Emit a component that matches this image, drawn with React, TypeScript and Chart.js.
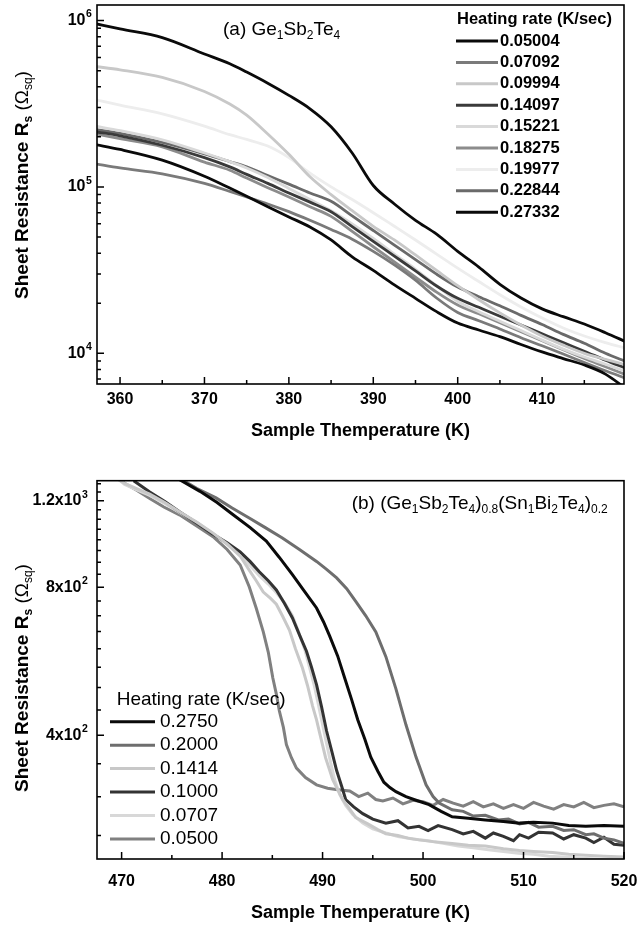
import React, { useEffect, useRef } from 'react';
import { Chart, registerables } from 'chart.js';

Chart.register(...registerables);

const FONT = "'Liberation Sans', Arial, Helvetica, sans-serif";

// ---------------- Panel (a) Ge1Sb2Te4 ----------------
const tempA = [357.0, 360, 365, 370, 373, 375, 377.5, 380, 382.5, 385, 387.5, 390, 392.5, 395, 397.5, 400, 402.5, 405, 407.5, 410, 412.5, 415, 417.5, 420.0];
const rA05004 = [1.8e5, 1.68e5, 1.45e5, 1.16e5, 9.85e4, 8.8e4, 7.6e4, 6.6e4, 5.75e4, 4.8e4, 3.8e4, 3.15e4, 2.58e4, 2.14e4, 1.78e4, 1.52e4, 1.38e4, 1.26e4, 1.13e4, 1.02e4, 9.3e3, 8.5e3, 7.5e3, 6.1e3];
const rA07092 = [1.38e5, 1.3e5, 1.2e5, 1.05e5, 9.4e4, 8.7e4, 7.9e4, 7.1e4, 6.3e4, 5.55e4, 4.85e4, 4.1e4, 3.4e4, 2.75e4, 2.15e4, 1.76e4, 1.57e4, 1.4e4, 1.24e4, 1.11e4, 9.9e3, 8.8e3, 7.85e3, 7.05e3];
const rA09994 = [5.3e5, 5.06e5, 4.55e5, 3.75e5, 3.15e5, 2.7e5, 2.08e5, 1.57e5, 1.15e5, 9.0e4, 7.2e4, 5.8e4, 4.8e4, 3.9e4, 3.15e4, 2.55e4, 2.1e4, 1.75e4, 1.48e4, 1.27e4, 1.12e4, 1.0e4, 9.2e3, 8.5e3];
const rA14097 = [2.15e5, 2.03e5, 1.78e5, 1.5e5, 1.32e5, 1.19e5, 1.05e5, 9.2e4, 8.1e4, 7.1e4, 5.78e4, 4.71e4, 3.84e4, 3.13e4, 2.54e4, 2.14e4, 1.89e4, 1.67e4, 1.48e4, 1.31e4, 1.16e4, 1.03e4, 9.1e3, 8.1e3];
const rA15221 = [2.32e5, 2.18e5, 1.92e5, 1.6e5, 1.42e5, 1.3e5, 1.14e5, 9.8e4, 8.4e4, 7.2e4, 6.0e4, 4.9e4, 3.95e4, 3.2e4, 2.55e4, 2.05e4, 1.78e4, 1.56e4, 1.37e4, 1.2e4, 1.06e4, 9.5e3, 8.6e3, 7.75e3];
const rA18275 = [2.09e5, 1.95e5, 1.74e5, 1.41e5, 1.26e5, 1.13e5, 9.9e4, 8.7e4, 7.6e4, 6.65e4, 5.4e4, 4.37e4, 3.54e4, 2.87e4, 2.33e4, 1.95e4, 1.73e4, 1.53e4, 1.35e4, 1.19e4, 1.05e4, 9.3e3, 8.3e3, 7.4e3];
const rA19977 = [3.35e5, 3.1e5, 2.75e5, 2.32e5, 2.06e5, 1.93e5, 1.76e5, 1.5e5, 1.21e5, 1.0e5, 8.4e4, 7.0e4, 5.8e4, 4.8e4, 3.95e4, 3.25e4, 2.7e4, 2.25e4, 1.9e4, 1.63e4, 1.42e4, 1.27e4, 1.16e4, 1.07e4];
const rA22844 = [2.22e5, 2.1e5, 1.85e5, 1.58e5, 1.42e5, 1.32e5, 1.17e5, 1.04e5, 9.2e4, 8.2e4, 6.7e4, 5.47e4, 4.47e4, 3.66e4, 2.99e4, 2.5e4, 2.19e4, 1.93e4, 1.69e4, 1.49e4, 1.3e4, 1.15e4, 1.0e4, 8.9e3];
const rA27332 = [9.6e5, 8.9e5, 7.9e5, 6.3e5, 5.5e5, 4.9e5, 4.2e5, 3.55e5, 2.95e5, 2.3e5, 1.6e5, 1.02e5, 7.9e4, 6.3e4, 5.2e4, 4.1e4, 3.3e4, 2.6e4, 2.15e4, 1.85e4, 1.66e4, 1.5e4, 1.33e4, 1.17e4];
const seriesA = [rA05004, rA07092, rA09994, rA14097, rA15221, rA18275, rA19977, rA22844, rA27332];
const labelsA = ['0.05004', '0.07092', '0.09994', '0.14097', '0.15221', '0.18275', '0.19977', '0.22844', '0.27332'];
const colorsA = ['#0a0a0a', '#7a7a7a', '#c8c8c8', '#3a3a3a', '#d9d9d9', '#8c8c8c', '#ededed', '#6a6a6a', '#0a0a0a'];
const xMajorA = [360, 370, 380, 390, 400, 410];
const xMinorA = [365, 375, 385, 395, 405, 415];
const yMajorA = [1e4, 1e5, 1e6];
const yLabelBaseA = ['10', '10', '10'];
const yLabelExpA = ['4', '5', '6'];
const yMinorA = [7e3, 8e3, 9e3, 2e4, 3e4, 4e4, 5e4, 6e4, 7e4, 8e4, 9e4, 2e5, 3e5, 4e5, 5e5, 6e5, 7e5, 8e5, 9e5];
const legendTitleA = 'Heating rate (K/sec)';

// ---------------- Panel (b) (Ge1Sb2Te4)0.8(Sn1Bi2Te4)0.2 ----------------
const tB2750 = [475.5, 477.8, 479.5, 481.1, 482.8, 484.4, 485.7, 487.0, 488.2, 489.4, 490.1, 490.7, 491.5, 492.2, 492.9, 493.5, 494.2, 494.8, 495.5, 496.1, 496.7, 497.3, 498.3, 499.3, 500.6, 501.8, 502.9, 504.5, 506.2, 508.0, 509.6, 511.0, 512.9, 514.5, 516.2, 518.0, 520.0];
const rB2750 = [1334, 1254, 1190, 1124, 1058, 993, 920, 849, 785, 726, 680, 637, 580, 523, 472, 430, 393, 361, 338, 321, 313, 307, 300, 295, 289, 280, 273, 271, 269, 267, 265, 266, 265, 262, 261, 262, 261];
const tB2000 = [475.6, 477.5, 479.4, 481.0, 482.7, 484.3, 486.0, 487.7, 489.4, 490.4, 491.4, 492.4, 493.3, 494.3, 495.3, 496.3, 497.3, 498.3, 499.3, 500.3, 501.0, 501.6, 502.9, 504.0, 505.0, 506.2, 507.5, 508.5, 509.6, 510.5, 511.5, 512.9, 514.0, 515.0, 516.2, 517.0, 518.0, 519.0, 520.0];
const rB2000 = [1340, 1270, 1216, 1160, 1107, 1058, 1008, 955, 903, 870, 836, 795, 749, 700, 649, 578, 497, 420, 361, 317, 300, 291, 282, 280, 274, 275, 269, 270, 264, 266, 260, 261, 256, 257, 251, 252, 247, 245, 241];
const tB1414 = [469.6, 470.3, 471.5, 472.8, 474.3, 475.8, 477.5, 479.1, 480.5, 481.8, 482.7, 483.4, 484.1, 484.8, 485.4, 486.0, 486.7, 487.3, 488.0, 488.5, 489.0, 489.4, 489.7, 490.0, 490.3, 490.7, 491.0, 491.5, 492.0, 492.6, 493.3, 494.5, 495.5, 496.3, 497.5, 498.5, 499.6, 501.0, 502.9, 504.5, 506.2, 508.0, 509.6, 511.0, 512.9, 514.5, 516.2, 518.0, 520.0];
const rB1414 = [1330, 1302, 1270, 1238, 1190, 1138, 1085, 1031, 980, 926, 867, 825, 782, 760, 739, 700, 655, 600, 548, 505, 459, 430, 405, 382, 360, 340, 325, 310, 296, 285, 272, 264, 257, 252, 250, 247, 245, 243, 241, 239, 238, 235, 233, 232, 231, 229, 228, 227, 226];
const tB1000 = [471.2, 472.8, 474.3, 475.8, 477.5, 479.1, 480.5, 481.8, 482.8, 483.7, 484.6, 485.4, 486.2, 487.0, 487.7, 488.4, 488.9, 489.4, 489.9, 490.4, 490.9, 491.4, 491.9, 492.3, 493.1, 494.0, 495.0, 496.3, 497.5, 498.5, 499.6, 500.5, 501.5, 502.9, 504.0, 505.0, 506.2, 507.0, 508.0, 509.0, 509.6, 510.5, 511.5, 512.9, 514.0, 515.0, 516.2, 517.0, 518.0, 519.0, 520.0];
const rB1000 = [1318, 1250, 1195, 1138, 1080, 1026, 985, 944, 902, 860, 825, 790, 742, 693, 640, 593, 550, 507, 457, 408, 372, 339, 315, 296, 286, 277, 270, 265, 268, 259, 261, 256, 262, 257, 252, 255, 247, 253, 249, 244, 251, 247, 254, 253, 246, 251, 247, 242, 248, 240, 239];
const tB0707 = [469.4, 470.3, 471.5, 472.8, 474.3, 475.8, 477.5, 479.1, 480.5, 481.8, 482.8, 483.7, 484.6, 485.4, 486.2, 487.0, 487.6, 488.2, 488.7, 489.2, 489.6, 490.0, 490.4, 490.8, 491.2, 491.7, 492.3, 493.0, 494.0, 495.0, 496.3, 497.5, 499.0, 500.5, 502.0, 503.5, 505.0, 506.5, 508.0, 509.5, 511.0, 512.5, 514.0, 515.5, 517.0, 518.5, 520.0];
const rB0707 = [1340, 1295, 1262, 1230, 1185, 1135, 1083, 1028, 978, 930, 885, 845, 812, 780, 745, 700, 650, 600, 550, 502, 460, 420, 385, 352, 325, 303, 288, 276, 265, 258, 253, 249, 246, 244, 241, 238, 236, 234, 232, 230, 229, 227, 226, 225, 224, 223, 222];
const tB0500 = [469.5, 470.3, 471.5, 472.8, 474.2, 475.8, 477.4, 479.1, 480.5, 481.8, 482.7, 483.4, 484.1, 484.6, 485.05, 485.4, 485.7, 486.1, 486.4, 486.9, 487.4, 488.3, 489.4, 490.5, 491.5, 492.7, 493.6, 494.5, 495.3, 496.0, 497.0, 498.0, 499.0, 500.0, 501.0, 502.0, 503.0, 504.0, 505.0, 506.0, 507.0, 508.0, 509.0, 510.0, 511.0, 512.0, 513.0, 514.0, 515.0, 516.0, 517.0, 518.0, 519.0, 520.0];
const rB0500 = [1345, 1302, 1260, 1213, 1165, 1122, 1068, 1014, 955, 888, 802, 725, 649, 590, 523, 485, 448, 415, 383, 360, 343, 328, 317, 312, 310, 308, 300, 305, 296, 294, 298, 290, 295, 293, 288, 296, 291, 287, 293, 286, 290, 284, 289, 284, 292, 287, 283, 289, 286, 292, 285, 288, 290, 286];
const tempsB = [tB2750, tB2000, tB1414, tB1000, tB0707, tB0500];
const seriesB = [rB2750, rB2000, rB1414, rB1000, rB0707, rB0500];
const labelsB = ['0.2750', '0.2000', '0.1414', '0.1000', '0.0707', '0.0500'];
const colorsB = ['#0a0a0a', '#6e6e6e', '#c8c8c8', '#333333', '#d8d8d8', '#808080'];
const xMajorB = [470, 480, 490, 500, 510, 520];
const xMinorB = [475, 485, 495, 505, 515];
const yMajorB = [400, 800, 1200];
const yLabelBaseB = ['4x10', '8x10', '1.2x10'];
const yLabelExpB = ['2', '2', '3'];
const yMinorB = [250, 300, 350, 450, 500, 550, 600, 650, 700, 750, 850, 900, 950, 1000, 1050, 1100, 1150, 1250, 1300];
const legendTitleB = 'Heating rate (K/sec)';

type Seg = { t: string; sub?: boolean; bold?: boolean };

function richWidth(ctx: CanvasRenderingContext2D, segs: Seg[], size: number, subSize: number) {
  let w = 0;
  for (const s of segs) {
    ctx.font = `${s.bold ? 'bold ' : ''}${s.sub ? subSize : size}px ${FONT}`;
    w += ctx.measureText(s.t).width;
  }
  return w;
}

function drawRich(ctx: CanvasRenderingContext2D, segs: Seg[], x: number, y: number, size: number, subSize: number, subDy: number) {
  let cx = x;
  ctx.textBaseline = 'alphabetic';
  ctx.textAlign = 'left';
  for (const s of segs) {
    ctx.font = `${s.bold ? 'bold ' : ''}${s.sub ? subSize : size}px ${FONT}`;
    ctx.fillText(s.t, cx, y + (s.sub ? subDy : 0));
    cx += ctx.measureText(s.t).width;
  }
}

const yTitleSegs: Seg[] = [
  { t: 'Sheet Resistance R', bold: true },
  { t: 's', bold: true, sub: true },
  { t: ' ', bold: true },
  { t: '(Ω' },
  { t: 'sq', sub: true },
  { t: ')' },
];

const noteA: Seg[] = [
  { t: '(a) Ge' }, { t: '1', sub: true }, { t: 'Sb' }, { t: '2', sub: true }, { t: 'Te' }, { t: '4', sub: true },
];
const noteB: Seg[] = [
  { t: '(b) (Ge' }, { t: '1', sub: true }, { t: 'Sb' }, { t: '2', sub: true }, { t: 'Te' }, { t: '4', sub: true },
  { t: ')' }, { t: '0.8', sub: true }, { t: '(Sn' }, { t: '1', sub: true }, { t: 'Bi' }, { t: '2', sub: true },
  { t: 'Te' }, { t: '4', sub: true }, { t: ')' }, { t: '0.2', sub: true },
];

type PanelOpts = {
  key: string;
  xMajor: number[]; xMinor: number[]; yMajor: number[]; yMinor: number[];
  yExp: string[]; expX: number;
  titleCY: number;
  note: Seg[]; noteX: number; noteY: number;
  legendTitle: string; legendTitleBold: boolean; legendSize: number;
  legendTitleX: number; legendTitleY: number;
  legendX0: number; legendX1: number; legendTextX: number; legendY0: number; legendDY: number;
  labels: string[]; colors: string[];
};

function panelPlugin(o: PanelOpts) {
  return {
    id: 'panel_' + o.key,
    afterDatasetsDraw(chart: any) {
      const { ctx, chartArea: a, scales } = chart;
      const xs = scales.x, ys = scales.y;
      ctx.save();
      ctx.strokeStyle = '#000';
      ctx.lineWidth = 1.5;
      ctx.beginPath();
      const xt = (vals: number[], len: number) => {
        for (const v of vals) {
          const p = xs.getPixelForValue(v);
          ctx.moveTo(p, a.bottom);
          ctx.lineTo(p, a.bottom - len);
        }
      };
      const yt = (vals: number[], len: number) => {
        for (const v of vals) {
          const p = ys.getPixelForValue(v);
          if (p < a.top || p > a.bottom) continue;
          ctx.moveTo(a.left, p);
          ctx.lineTo(a.left + len, p);
        }
      };
      xt(o.xMajor, 7); xt(o.xMinor, 4);
      yt(o.yMajor, 7); yt(o.yMinor, 4);
      ctx.stroke();
      ctx.lineWidth = 1.6;
      ctx.strokeRect(a.left, a.top, a.right - a.left, a.bottom - a.top);
      ctx.restore();
    },
    afterDraw(chart: any) {
      const { ctx, scales } = chart;
      // exponents of the y tick labels (superscripts)
      ctx.save();
      ctx.fillStyle = '#000';
      ctx.font = `bold 10.5px ${FONT}`;
      ctx.textAlign = 'left';
      ctx.textBaseline = 'middle';
      o.yMajor.forEach((v, i) => {
        const p = scales.y.getPixelForValue(v);
        ctx.fillText(o.yExp[i], o.expX, p - 6);
      });
      ctx.restore();

      ctx.save();
      ctx.fillStyle = '#000';
      ctx.translate(21, o.titleCY);
      ctx.rotate(-Math.PI / 2);
      const w = richWidth(ctx, yTitleSegs, 19, 12);
      drawRich(ctx, yTitleSegs, -w / 2, 6.8, 19, 12, 4);
      ctx.restore();

      ctx.save();
      ctx.fillStyle = '#000';
      drawRich(ctx, o.note, o.noteX, o.noteY, 19, 12, 4);
      ctx.textBaseline = 'middle';
      ctx.textAlign = 'left';
      ctx.font = `${o.legendTitleBold ? 'bold ' : ''}${o.legendSize}px ${FONT}`;
      ctx.fillText(o.legendTitle, o.legendTitleX, o.legendTitleY);
      o.labels.forEach((lab, i) => {
        const y = o.legendY0 + i * o.legendDY;
        ctx.strokeStyle = o.colors[i];
        ctx.lineWidth = 3;
        ctx.beginPath();
        ctx.moveTo(o.legendX0, y);
        ctx.lineTo(o.legendX1, y);
        ctx.stroke();
        ctx.fillStyle = '#000';
        ctx.fillText(lab, o.legendTextX, y);
      });
      ctx.restore();
    },
  };
}

function baseScales(p: {
  xMin: number; xMax: number; yMin: number; yMax: number;
  xMajor: number[]; yMajor: number[]; yLabels: string[];
  xHeight: number; yWidth: number; xPad: number; yPad: number; titlePad: number;
}) {
  return {
    x: {
      type: 'linear',
      min: p.xMin,
      max: p.xMax,
      afterBuildTicks: (s: any) => { s.ticks = p.xMajor.map((v) => ({ value: v })); },
      afterFit: (s: any) => { s.height = p.xHeight; s.paddingLeft = 0; s.paddingRight = 0; },
      grid: { display: false, drawTicks: false },
      border: { display: false },
      ticks: {
        autoSkip: false, maxRotation: 0, minRotation: 0, padding: p.xPad, color: '#000',
        font: { family: FONT, size: 16, weight: 'bold' },
        callback: (v: number) => String(v),
      },
      title: {
        display: true, text: 'Sample Themperature (K)', color: '#000',
        font: { family: FONT, size: 18, weight: 'bold', lineHeight: 1 },
        padding: { top: 0, bottom: p.titlePad },
      },
    },
    y: {
      type: 'logarithmic',
      min: p.yMin,
      max: p.yMax,
      afterBuildTicks: (s: any) => { s.ticks = p.yMajor.map((v) => ({ value: v })); },
      afterFit: (s: any) => { s.width = p.yWidth; s.paddingTop = 0; s.paddingBottom = 0; },
      grid: { display: false, drawTicks: false },
      border: { display: false },
      ticks: {
        autoSkip: false, padding: p.yPad, color: '#000',
        font: { family: FONT, size: 16, weight: 'bold' },
        callback: (v: number) => {
          const i = p.yMajor.indexOf(v);
          return i >= 0 ? p.yLabels[i] : '';
        },
      },
    },
  };
}

function configA(): any {
  const datasets = seriesA.map((vals, i) => ({
    label: labelsA[i],
    data: tempA.map((t, j) => ({ x: t, y: vals[j] })),
    borderColor: colorsA[i],
    backgroundColor: colorsA[i],
    borderWidth: 2.8,
    pointRadius: 0,
    cubicInterpolationMode: 'monotone',
    fill: false,
  }));
  return {
    type: 'line',
    data: { datasets },
    options: {
      animation: false,
      responsive: false,
      devicePixelRatio: 1,
      layout: { padding: { top: 5, right: 13, left: 0, bottom: 0 } },
      plugins: { legend: { display: false }, tooltip: { enabled: false } },
      scales: baseScales({
        xMin: 357.27, xMax: 419.7, yMin: 6540, yMax: 1.24e6,
        xMajor: xMajorA, yMajor: yMajorA, yLabels: yLabelBaseA,
        xHeight: 56, yWidth: 97, xPad: 6, yPad: 11.5, titlePad: 0,
      }),
    },
    plugins: [panelPlugin({
      key: 'a', xMajor: xMajorA, xMinor: xMinorA, yMajor: yMajorA, yMinor: yMinorA,
      yExp: yLabelExpA, expX: 86,
      titleCY: 185, note: noteA, noteX: 223, noteY: 35,
      legendTitle: legendTitleA, legendTitleBold: true, legendSize: 16.5,
      legendTitleX: 457, legendTitleY: 19,
      legendX0: 456, legendX1: 498, legendTextX: 500, legendY0: 41, legendDY: 21.4,
      labels: labelsA, colors: colorsA,
    })],
  };
}

function configB(): any {
  const datasets = seriesB.map((vals, i) => ({
    label: labelsB[i],
    data: tempsB[i].map((t, j) => ({ x: t, y: vals[j] })),
    borderColor: colorsB[i],
    backgroundColor: colorsB[i],
    borderWidth: 3,
    pointRadius: 0,
    tension: 0,
    fill: false,
  }));
  return {
    type: 'line',
    data: { datasets },
    options: {
      animation: false,
      responsive: false,
      devicePixelRatio: 1,
      layout: { padding: { top: 40.7, right: 13, left: 0, bottom: 0 } },
      plugins: { legend: { display: false }, tooltip: { enabled: false } },
      scales: baseScales({
        xMin: 467.55, xMax: 520, yMin: 224, yMax: 1318,
        xMajor: xMajorB, yMajor: yMajorB, yLabels: yLabelBaseB,
        xHeight: 70, yWidth: 97, xPad: 13, yPad: 15.5, titlePad: 7,
      }),
    },
    plugins: [panelPlugin({
      key: 'b', xMajor: xMajorB, xMinor: xMinorB, yMajor: yMajorB, yMinor: yMinorB,
      yExp: yLabelExpB, expX: 82,
      titleCY: 238, note: noteB, noteX: 351.7, noteY: 69,
      legendTitle: legendTitleB, legendTitleBold: false, legendSize: 19,
      legendTitleX: 116.7, legendTitleY: 259.3,
      legendX0: 110, legendX1: 155, legendTextX: 160, legendY0: 281.7, legendDY: 23.45,
      labels: labelsB, colors: colorsB,
    })],
  };
}

function Panel({ make, top, height }: { make: () => any; top: number; height: number }) {
  const ref = useRef<HTMLCanvasElement>(null);
  useEffect(() => {
    const chart = new Chart(ref.current as HTMLCanvasElement, make());
    return () => chart.destroy();
  }, []);
  return (
    <canvas
      ref={ref}
      width={637}
      height={height}
      style={{ position: 'absolute', left: 0, top, width: 637, height, display: 'block' }}
    />
  );
}

export default function App() {
  return (
    <div style={{ position: 'absolute', left: 0, top: 0, width: 637, height: 929, background: '#fff', overflow: 'hidden' }}>
      <Panel make={configA} top={0} height={440} />
      <Panel make={configB} top={440} height={489} />
    </div>
  );
}
